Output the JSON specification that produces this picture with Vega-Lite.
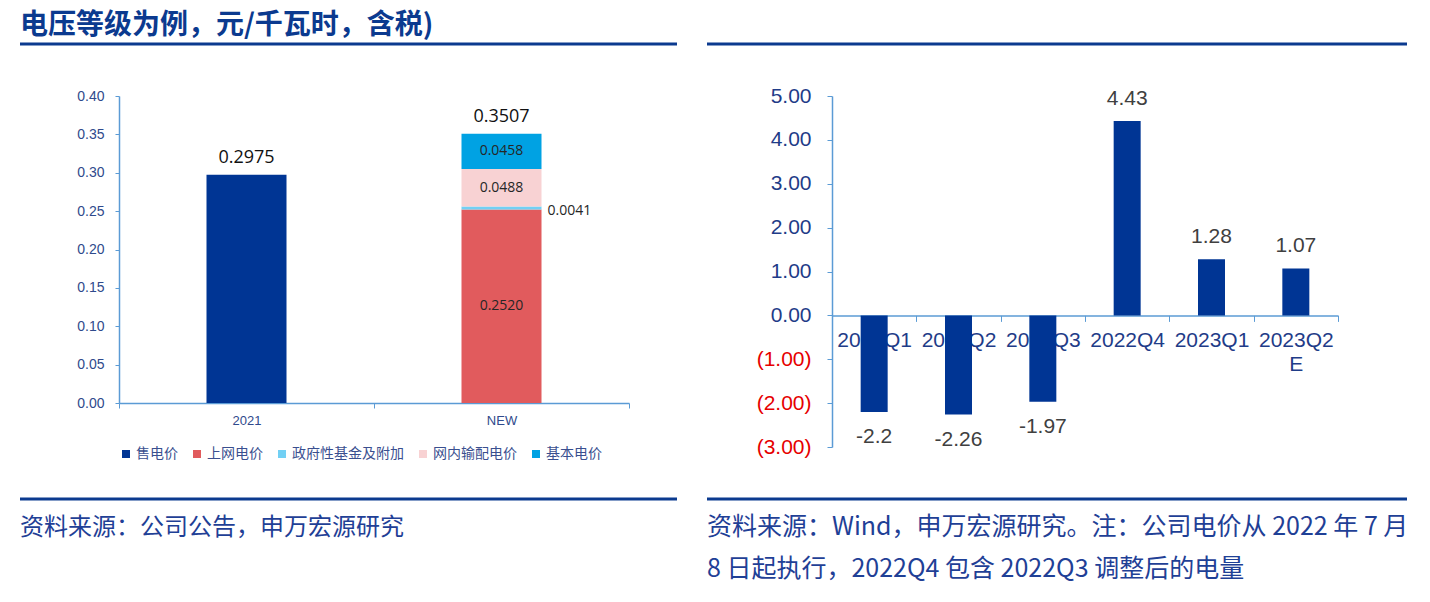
{
  "$schema": "https://vega.github.io/schema/vega-lite/v6.json",
  "background": "white",
  "padding": {"left": 18, "top": 0, "right": 0, "bottom": 0},
  "bounds": "flush",
  "columns": 7,
  "align": "each",
  "spacing": {"row": 52, "column": 0},
  "config": {"view": {"stroke": null}, "axis": {"grid": false}},
  "datasets": {
    "left": [
      {"cat": "2021", "comp": "售电价", "v": 0.2975, "ord": 1},
      {"cat": "NEW", "comp": "上网电价", "v": 0.2520, "ord": 1},
      {"cat": "NEW", "comp": "政府性基金及附加", "v": 0.0041, "ord": 2},
      {"cat": "NEW", "comp": "网内输配电价", "v": 0.0488, "ord": 3},
      {"cat": "NEW", "comp": "基本电价", "v": 0.0458, "ord": 4}
    ],
    "right": [
      {"q": "2022Q1", "v": -2.2},
      {"q": "2022Q2", "v": -2.26},
      {"q": "2022Q3", "v": -1.97},
      {"q": "2022Q4", "v": 4.43},
      {"q": "2023Q1", "v": 1.28},
      {"q": "2023Q2E", "v": 1.07}
    ],
    "one": [{}],
    "empty": []
  },
  "concat": [
    {
      "width": 99, "height": 44,
      "data": {"values": [{"t": "电压等级为例，元/千瓦时，含税)"}]},
      "layer": [
        {"mark": {"type": "rule", "color": "#0b3a8f", "strokeWidth": 3},
         "encoding": {"y": {"datum": 0, "type": "quantitative", "scale": {"domain": [0, 1]}, "axis": null}}},
        {"mark": {"type": "text", "align": "left", "baseline": "alphabetic", "dy": -10, "font": "Noto Sans CJK SC", "fontSize": 28, "fontWeight": "bold", "color": "#0b3a8f"},
         "encoding": {
           "x": {"datum": 0, "type": "quantitative", "scale": {"domain": [0, 1]}, "axis": null},
           "y": {"datum": 0, "type": "quantitative", "scale": {"domain": [0, 1]}, "axis": null},
           "text": {"field": "t"}}}
      ]
    },
    {"width": 510, "height": 44, "data": {"name": "one"}, "mark": {"type": "rule", "color": "#0b3a8f", "strokeWidth": 3}, "encoding": {"y": {"datum": 0, "type": "quantitative", "scale": {"domain": [0, 1]}, "axis": null}}},
    {"width": 48, "height": 44, "data": {"name": "one"}, "mark": {"type": "rule", "color": "#0b3a8f", "strokeWidth": 3}, "encoding": {"y": {"datum": 0, "type": "quantitative", "scale": {"domain": [0, 1]}, "axis": null}}},
    {"width": 30, "height": 1, "data": {"name": "empty"}, "mark": {"type": "point", "opacity": 0}, "encoding": {}},
    {"width": 125, "height": 44, "data": {"name": "one"}, "mark": {"type": "rule", "color": "#0b3a8f", "strokeWidth": 3}, "encoding": {"y": {"datum": 0, "type": "quantitative", "scale": {"domain": [0, 1]}, "axis": null}}},
    {"width": 506, "height": 44, "data": {"name": "one"}, "mark": {"type": "rule", "color": "#0b3a8f", "strokeWidth": 3}, "encoding": {"y": {"datum": 0, "type": "quantitative", "scale": {"domain": [0, 1]}, "axis": null}}},
    {"width": 69, "height": 44, "data": {"name": "one"}, "mark": {"type": "rule", "color": "#0b3a8f", "strokeWidth": 3}, "encoding": {"y": {"datum": 0, "type": "quantitative", "scale": {"domain": [0, 1]}, "axis": null}}},

    {"width": 99, "height": 1, "data": {"name": "empty"}, "mark": {"type": "point", "opacity": 0}, "encoding": {}},
    {
      "width": 510, "height": 307,
      "data": {"name": "left"},
      "layer": [
        {
          "mark": {"type": "bar", "width": 80},
          "encoding": {
            "x": {"field": "cat", "type": "nominal", "sort": ["2021", "NEW"], "scale": {"paddingInner": 0, "paddingOuter": 0},
                  "axis": {"title": null, "labelAngle": 0, "labelOverlap": false, "labelFont": "Liberation Sans", "labelFontSize": 13, "labelColor": "#2f4a8c", "labelPadding": 6, "tickBand": "extent", "tickSize": 5, "tickColor": "#5b9bd5", "domainColor": "#5b9bd5", "domainWidth": 1.5}},
            "y": {"field": "v", "type": "quantitative", "stack": "zero", "scale": {"domain": [0, 0.4], "nice": false},
                  "axis": {"title": null, "values": [0, 0.05, 0.1, 0.15, 0.2, 0.25, 0.3, 0.35, 0.4], "format": ".2f", "labelOverlap": false, "labelFont": "Liberation Sans", "labelFontSize": 14, "labelColor": "#2f4a8c", "labelPadding": 11, "tickSize": 4, "tickColor": "#5b9bd5", "domainColor": "#5b9bd5", "domainWidth": 1.5}},
            "color": {"field": "comp", "type": "nominal",
                      "scale": {"domain": ["售电价", "上网电价", "政府性基金及附加", "网内输配电价", "基本电价"], "range": ["#003594", "#e15b5d", "#72d0f4", "#f8d2d3", "#00a2e3"]},
                      "legend": {"orient": "none", "legendX": 99, "legendY": 447, "direction": "horizontal", "title": null, "symbolType": "square", "symbolSize": 64, "symbolStrokeWidth": 0, "labelFont": "Noto Sans CJK SC", "labelFontSize": 14, "labelColor": "#3a4f8f", "labelOffset": 3, "columnPadding": 12, "padding": 0}},
            "order": {"field": "ord", "type": "quantitative"}
          }
        },
        {
          "mark": {"type": "text", "baseline": "alphabetic", "dy": -12, "font": "Open Sans", "fontSize": 18, "color": "#111111"},
          "encoding": {
            "x": {"field": "cat", "type": "nominal", "sort": ["2021", "NEW"],
                  "axis": {"title": null, "labelAngle": 0, "labelOverlap": false, "labelFont": "Liberation Sans", "labelFontSize": 13, "labelColor": "#2f4a8c", "labelPadding": 6, "tickBand": "extent", "tickSize": 5, "tickColor": "#5b9bd5", "domainColor": "#5b9bd5", "domainWidth": 1.5}},
            "y": {"aggregate": "sum", "field": "v", "type": "quantitative",
                  "axis": {"title": null, "values": [0, 0.05, 0.1, 0.15, 0.2, 0.25, 0.3, 0.35, 0.4], "format": ".2f", "labelOverlap": false, "labelFont": "Liberation Sans", "labelFontSize": 14, "labelColor": "#2f4a8c", "labelPadding": 11, "tickSize": 4, "tickColor": "#5b9bd5", "domainColor": "#5b9bd5", "domainWidth": 1.5}},
            "text": {"aggregate": "sum", "field": "v", "type": "quantitative", "format": ".4f"}
          }
        },
        {
          "transform": [{"filter": "datum.cat == 'NEW'"}],
          "mark": {"type": "text", "baseline": "middle", "font": "Open Sans", "fontSize": 14, "color": "#262626"},
          "encoding": {
            "x": {"field": "cat", "type": "nominal", "sort": ["2021", "NEW"],
                  "axis": {"title": null, "labelAngle": 0, "labelOverlap": false, "labelFont": "Liberation Sans", "labelFontSize": 13, "labelColor": "#2f4a8c", "labelPadding": 6, "tickBand": "extent", "tickSize": 5, "tickColor": "#5b9bd5", "domainColor": "#5b9bd5", "domainWidth": 1.5}},
            "y": {"field": "v", "type": "quantitative", "stack": "zero", "bandPosition": 0.5,
                  "axis": {"title": null, "values": [0, 0.05, 0.1, 0.15, 0.2, 0.25, 0.3, 0.35, 0.4], "format": ".2f", "labelOverlap": false, "labelFont": "Liberation Sans", "labelFontSize": 14, "labelColor": "#2f4a8c", "labelPadding": 11, "tickSize": 4, "tickColor": "#5b9bd5", "domainColor": "#5b9bd5", "domainWidth": 1.5}},
            "detail": {"field": "comp", "type": "nominal"},
            "order": {"field": "ord", "type": "quantitative"},
            "text": {"field": "v", "type": "quantitative", "format": ".4f", "condition": {"test": "datum.comp == '政府性基金及附加'", "value": ""}}
          }
        },
        {
          "transform": [{"filter": "datum.cat == 'NEW'"}],
          "mark": {"type": "text", "baseline": "middle", "align": "left", "dx": 46, "dy": 3, "font": "Open Sans", "fontSize": 14, "color": "#262626"},
          "encoding": {
            "x": {"field": "cat", "type": "nominal", "sort": ["2021", "NEW"],
                  "axis": {"title": null, "labelAngle": 0, "labelOverlap": false, "labelFont": "Liberation Sans", "labelFontSize": 13, "labelColor": "#2f4a8c", "labelPadding": 6, "tickBand": "extent", "tickSize": 5, "tickColor": "#5b9bd5", "domainColor": "#5b9bd5", "domainWidth": 1.5}},
            "y": {"field": "v", "type": "quantitative", "stack": "zero", "bandPosition": 0.5,
                  "axis": {"title": null, "values": [0, 0.05, 0.1, 0.15, 0.2, 0.25, 0.3, 0.35, 0.4], "format": ".2f", "labelOverlap": false, "labelFont": "Liberation Sans", "labelFontSize": 14, "labelColor": "#2f4a8c", "labelPadding": 11, "tickSize": 4, "tickColor": "#5b9bd5", "domainColor": "#5b9bd5", "domainWidth": 1.5}},
            "detail": {"field": "comp", "type": "nominal"},
            "order": {"field": "ord", "type": "quantitative"},
            "text": {"field": "v", "type": "quantitative", "format": ".4f", "condition": {"test": "datum.comp != '政府性基金及附加'", "value": ""}}
          }
        }
      ]
    },
    {"width": 48, "height": 1, "data": {"name": "empty"}, "mark": {"type": "point", "opacity": 0}, "encoding": {}},
    {"width": 30, "height": 1, "data": {"name": "empty"}, "mark": {"type": "point", "opacity": 0}, "encoding": {}},
    {"width": 125, "height": 1, "data": {"name": "empty"}, "mark": {"type": "point", "opacity": 0}, "encoding": {}},
    {
      "width": 506, "height": 351,
      "data": {"name": "right"},
      "encoding": {
        "x": {"field": "q", "type": "nominal", "sort": ["2022Q1", "2022Q2", "2022Q3", "2022Q4", "2023Q1", "2023Q2E"], "scale": {"paddingInner": 0, "paddingOuter": 0},
              "axis": {"title": null, "orient": "bottom", "offset": -131.625, "labelAngle": 0, "labelFont": "Liberation Sans", "labelFontSize": 21, "labelColor": "#1f3c88", "labelPadding": 8, "labelLineHeight": 24, "labelExpr": "datum.value == '2023Q2E' ? ['2023Q2', 'E'] : datum.label", "labelOverlap": false, "tickBand": "extent", "tickSize": 6, "tickColor": "#5b9bd5", "domainColor": "#5b9bd5", "domainWidth": 1.5, "zindex": 0}},
        "y": {"field": "v", "type": "quantitative", "scale": {"domain": [-3, 5], "nice": false},
              "axis": {"title": null, "values": [-3, -2, -1, 0, 1, 2, 3, 4, 5], "labelOverlap": false, "labelExpr": "datum.value < 0 ? '(' + format(-datum.value, '.2f') + ')' : format(datum.value, '.2f') + '\u00a0'", "labelColor": {"condition": {"test": "datum.value < 0", "value": "#e60000"}, "value": "#1f3c88"}, "labelFont": "Liberation Sans", "labelFontSize": 21, "labelPadding": 16, "tickSize": 5, "tickColor": "#5b9bd5", "domainColor": "#5b9bd5", "domainWidth": 1.5}}
      },
      "layer": [
        {"mark": {"type": "bar", "width": 27, "color": "#003594"}},
        {"transform": [{"filter": "datum.v >= 0"}],
         "mark": {"type": "text", "baseline": "alphabetic", "dy": -16.5, "font": "Liberation Sans", "fontSize": 21, "color": "#404040"},
         "encoding": {"text": {"field": "v", "type": "nominal"}}},
        {"transform": [{"filter": "datum.v < 0"}],
         "mark": {"type": "text", "baseline": "alphabetic", "dy": 31, "font": "Liberation Sans", "fontSize": 21, "color": "#404040"},
         "encoding": {"text": {"field": "v", "type": "nominal"}}}
      ]
    },
    {"width": 69, "height": 1, "data": {"name": "empty"}, "mark": {"type": "point", "opacity": 0}, "encoding": {}},

    {
      "width": 99, "height": 90,
      "data": {"values": [{"t": "资料来源：公司公告，申万宏源研究"}]},
      "layer": [
        {"mark": {"type": "rule", "color": "#0b3a8f", "strokeWidth": 3},
         "encoding": {"y": {"datum": 1, "type": "quantitative", "scale": {"domain": [0, 1]}, "axis": null}}},
        {"mark": {"type": "text", "align": "left", "baseline": "alphabetic", "dy": 36, "font": "Noto Sans CJK SC", "fontSize": 24, "color": "#1f4096"},
         "encoding": {
           "x": {"datum": 0, "type": "quantitative", "scale": {"domain": [0, 1]}, "axis": null},
           "y": {"datum": 1, "type": "quantitative", "scale": {"domain": [0, 1]}, "axis": null},
           "text": {"field": "t"}}}
      ]
    },
    {"width": 510, "height": 90, "data": {"name": "one"}, "mark": {"type": "rule", "color": "#0b3a8f", "strokeWidth": 3}, "encoding": {"y": {"datum": 1, "type": "quantitative", "scale": {"domain": [0, 1]}, "axis": null}}},
    {"width": 48, "height": 90, "data": {"name": "one"}, "mark": {"type": "rule", "color": "#0b3a8f", "strokeWidth": 3}, "encoding": {"y": {"datum": 1, "type": "quantitative", "scale": {"domain": [0, 1]}, "axis": null}}},
    {"width": 30, "height": 1, "data": {"name": "empty"}, "mark": {"type": "point", "opacity": 0}, "encoding": {}},
    {
      "width": 125, "height": 90,
      "data": {"values": [{"t": ["资料来源：Wind，申万宏源研究。注：公司电价从 2022 年 7 月", "8 日起执行，2022Q4 包含 2022Q3 调整后的电量"]}]},
      "layer": [
        {"mark": {"type": "rule", "color": "#0b3a8f", "strokeWidth": 3},
         "encoding": {"y": {"datum": 1, "type": "quantitative", "scale": {"domain": [0, 1]}, "axis": null}}},
        {"mark": {"type": "text", "align": "left", "baseline": "alphabetic", "dy": 36, "lineHeight": 42, "font": "Noto Sans CJK SC", "fontSize": 25, "color": "#1f4096"},
         "encoding": {
           "x": {"datum": 0, "type": "quantitative", "scale": {"domain": [0, 1]}, "axis": null},
           "y": {"datum": 1, "type": "quantitative", "scale": {"domain": [0, 1]}, "axis": null},
           "text": {"field": "t"}}}
      ]
    },
    {"width": 506, "height": 90, "data": {"name": "one"}, "mark": {"type": "rule", "color": "#0b3a8f", "strokeWidth": 3}, "encoding": {"y": {"datum": 1, "type": "quantitative", "scale": {"domain": [0, 1]}, "axis": null}}},
    {"width": 69, "height": 90, "data": {"name": "one"}, "mark": {"type": "rule", "color": "#0b3a8f", "strokeWidth": 3}, "encoding": {"y": {"datum": 1, "type": "quantitative", "scale": {"domain": [0, 1]}, "axis": null}}}
  ]
}
